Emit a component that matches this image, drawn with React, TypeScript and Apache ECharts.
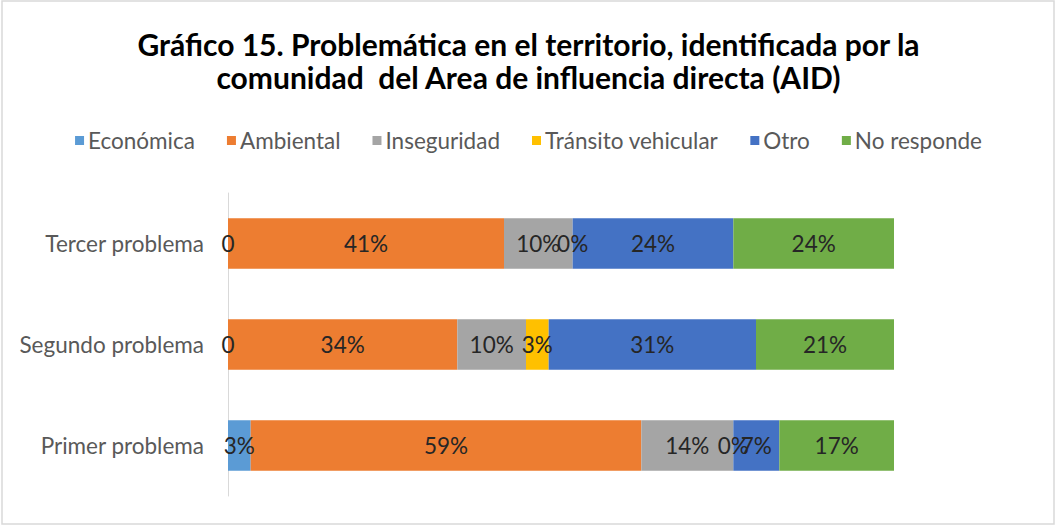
import React, { useEffect, useRef } from "react";
import * as echarts from "echarts";

const categories = ["Primer problema", "Segundo problema", "Tercer problema"];
const seriesNames = ["Económica", "Ambiental", "Inseguridad", "Tránsito vehicular", "Otro", "No responde"];
const economica = [3.4, 0, 0];
const ambiental = [58.6, 34.4, 41.4];
const inseguridad = [13.8, 10.3, 10.3];
const transito = [0, 3.4, 0];
const otro = [6.9, 31.1, 24.1];
const noResponde = [17.2, 20.7, 24.1];
const colors = ["#5B9BD5", "#ED7D31", "#A5A5A5", "#FFC000", "#4472C4", "#70AD47"];

const allSeries = [economica, ambiental, inseguridad, transito, otro, noResponde];

export default function App() {
  const ref = useRef<HTMLDivElement>(null);
  useEffect(() => {
    if (!ref.current) return;
    const chart = echarts.init(ref.current, null, { renderer: "svg" });
    const totals = categories.map((_, i) => allSeries.reduce((s, arr) => s + arr[i], 0));
    const maxTotal = Math.max(...totals);
    const font = "Lato";
    chart.setOption({
      animation: false,
      backgroundColor: "#ffffff",
      title: {
        text: "Gráfico 15. Problemática en el territorio, identificada por la\ncomunidad  del Area de influencia directa (AID)",
        left: "center",
        top: 22,
        textStyle: { fontFamily: font, fontSize: 30, fontWeight: "bold", color: "#000000", lineHeight: 33 },
      },
      legend: {
        top: 124,
        left: "center",
        itemWidth: 9,
        itemHeight: 9,
        itemGap: 32,
        icon: "rect",
        textStyle: { fontFamily: font, fontSize: 22.5, color: "#595959", padding: [0, 0, 0, -1] },
        data: seriesNames,
      },
      graphic: [
        {
          type: "rect",
          shape: { x: 2, y: 1, width: 1052, height: 523 },
          style: { fill: "none", stroke: "#d9d9d9", lineWidth: 1.5 },
          silent: true,
        },
      ],
      grid: { left: 228, right: 163, top: 193, height: 303, containLabel: false },
      xAxis: {
        type: "value",
        min: 0,
        max: maxTotal,
        show: false,
      },
      yAxis: {
        type: "category",
        data: categories,
        axisLine: { show: true, lineStyle: { color: "#d9d9d9", width: 1 } },
        axisTick: { show: false },
        axisLabel: { fontFamily: font, fontSize: 22.5, color: "#595959", margin: 24 },
      },
      series: allSeries.map((arr, si) => ({
        name: seriesNames[si],
        type: "bar",
        stack: "total",
        barWidth: "50%",
        data: arr,
        itemStyle: { color: colors[si] },
        label: {
          show: true,
          position: "inside",
          fontFamily: font,
          fontSize: 22.5,
          color: "#262626",
          formatter: (p: any) => (si === 0 && p.value === 0 ? "0" : Math.round(p.value) + "%"),
        },
      })),
    });
    return () => chart.dispose();
  }, []);
  return <div ref={ref} style={{ position: "fixed", left: 0, top: 0, width: 1057, height: 526 }} />;
}
